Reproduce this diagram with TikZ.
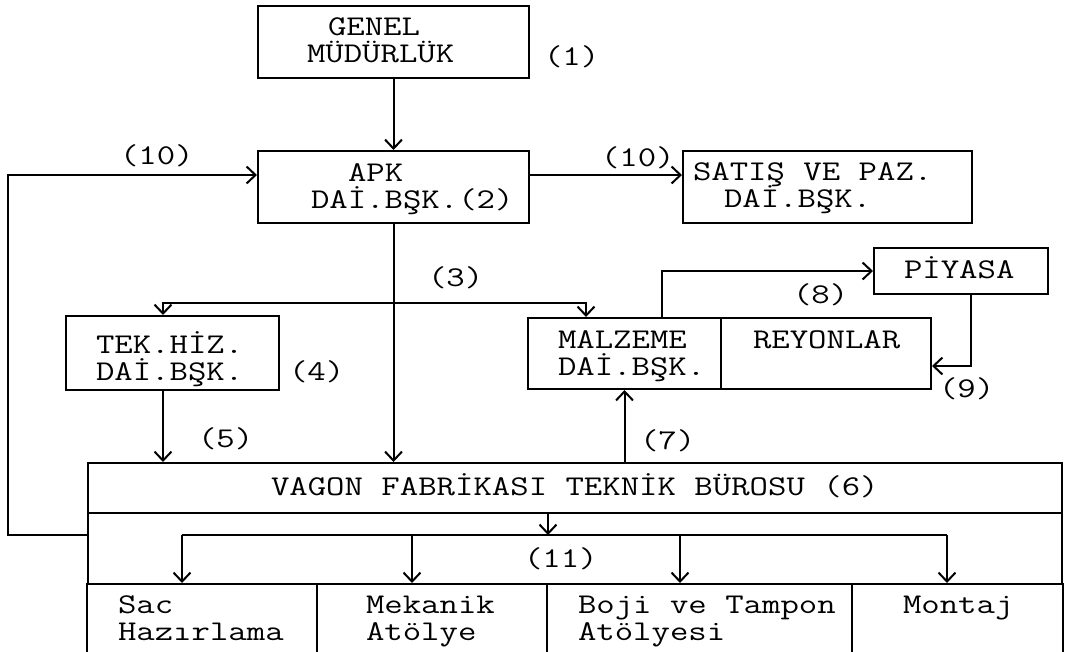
\documentclass[tikz,border=0pt]{standalone}
\usepackage{fontspec}
\newfontfamily\tw[FakeStretch=1.25]{Latin Modern Mono}
\usetikzlibrary{arrows.meta,calc}
\newcommand\twol[2]{\vtop{\lineskiplimit=-100pt\baselineskip=27pt\hbox{#1}\hbox{#2}}}
\begin{document}
\begin{tikzpicture}[x=1pt,y=-1pt,
  line width=2pt,
  box/.style={draw,rectangle,inner sep=0pt,anchor=north west},
  cell/.style={rectangle,inner sep=0pt,anchor=north west},
  txt/.style={inner sep=0pt,anchor=base west,font=\tw\fontsize{28.6}{27}\selectfont},
  arr/.style={-{Straight Barb[length=9pt,width=17pt]}}]
\fill[white] (0,0) rectangle (1067,651);
\useasboundingbox (0,0) rectangle (1067,651);

% boxes
\node[box,minimum width=271pt,minimum height=72pt] (gm) at (257,5) {};
\node[box,minimum width=271pt,minimum height=72pt] (apk) at (257,150) {};
\node[box,minimum width=289pt,minimum height=72pt] (sat) at (682,150) {};
\node[box,minimum width=213pt,minimum height=74pt] (tek) at (65,315) {};
\node[box,minimum width=193pt,minimum height=71pt] (malz) at (527,317) {};
\node[box,minimum width=210pt,minimum height=71pt] (rey) at (720,317) {};
\node[box,minimum width=174pt,minimum height=46pt] (piy) at (873,247) {};
\node[box,minimum width=974pt,minimum height=50pt] (vt) at (87,462) {};
\node[box,minimum width=974pt,minimum height=71pt] (vm) at (87,512) {};
\node[cell,minimum width=230pt,minimum height=68pt] (c1) at (87,583) {};
\node[cell,minimum width=230pt,minimum height=68pt] (c2) at (317,583) {};
\node[cell,minimum width=305pt,minimum height=68pt] (c3) at (547,583) {};
\node[cell,minimum width=209pt,minimum height=68pt] (c4) at (852,583) {};
\draw (c1.north west) -- (c1.south west);
\draw (c2.north west) -- (c2.south west);
\draw (c3.north west) -- (c3.south west);
\draw (c4.north west) -- (c4.south west);
\draw (c4.north east) -- (c4.south east);

% texts
\node[txt] (gmt) at (306,35) {\twol{\hspace*{21pt}GENEL}{MÜDÜRLÜK}};
\node[txt] (apkt) at (310,181) {\twol{\hspace*{37pt}APK}{DAİ.BŞK.(2)}};
\node[txt] (satt) at (692,180) {\twol{SATIŞ VE PAZ.}{\hspace*{31pt}DAİ.BŞK.}};
\node[txt] (tekt) at (95,353) {\twol{TEK.HİZ.}{DAİ.BŞK.}};
\node[txt] (malzt) at (557,348) {\twol{MALZEME}{DAİ.BŞK.}};
\node[txt] (reyt) at (752,348) {REYONLAR};
\node[txt] (piyt) at (903,278) {PİYASA};
\node[txt] (vtt) at (270,495) {VAGON FABRİKASI TEKNİK BÜROSU (6)};
\node[txt] (c1t) at (117,613) {\twol{Sac}{Hazırlama}};
\node[txt] (c2t) at (365,613) {\twol{Mekanik}{Atölye}};
\node[txt] (c3t) at (577,613) {\twol{Boji ve Tampon}{Atölyesi}};
\node[txt] (c4t) at (902,613) {Montaj};

% labels
\node[txt] (l1) at (543,65) {(1)};
\node[txt] (l10a) at (119,164) {(10)};
\node[txt] (l10b) at (600,166) {(10)};
\node[txt] (l3) at (427,286) {(3)};
\node[txt] (l4) at (288,380) {(4)};
\node[txt] (l5) at (197,447) {(5)};
\node[txt] (l7) at (639,449) {(7)};
\node[txt] (l8) at (792,303) {(8)};
\node[txt] (l9) at (938,397) {(9)};
\node[txt] (l11) at (523,567) {(11)};

% connectors
\draw[arr] (gm.south) -- (apk.north);
\draw[arr] ([yshift=12pt]apk.east) -- ([yshift=12pt]apk.east -| sat.west);
\draw[arr] (apk.south) -- (apk.south |- vt.north);
\coordinate (j3) at (393,303);
\draw[arr] (j3) -| ([xshift=-9.5pt]tek.north);
\draw[arr] (j3) -| ([xshift=-38.5pt]malz.north);
\draw[arr] ([xshift=-9.5pt]tek.south) -- ([xshift=-9.5pt]tek.south |- vt.north);
\draw[arr] ([xshift=37.5pt]malz.north) |- (piy.west);
\draw[arr] ([xshift=10pt]piy.south) |- ([yshift=-12.5pt]rey.east);
\draw[arr] (malz.south |- vt.north) -- (malz.south);
\coordinate (d) at (548,535);
\draw[arr] (vt.south -| d) -- (d);
\coordinate (a1) at (182,535);
\coordinate (a2) at (412,535);
\coordinate (a3) at (680,535);
\coordinate (a4) at (947,535);
\draw (a1) -- (a4);
\draw[arr] (a1) -- (a1 |- c1.north);
\draw[arr] (a2) -- (a2 |- c2.north);
\draw[arr] (a3) -- (a3 |- c3.north);
\draw[arr] (a4) -- (a4 |- c4.north);
\coordinate (lp) at (8,300);
\draw[arr] (vm.west |- d) -| (lp) |- ([yshift=12pt]apk.west);
\end{tikzpicture}
\end{document}
